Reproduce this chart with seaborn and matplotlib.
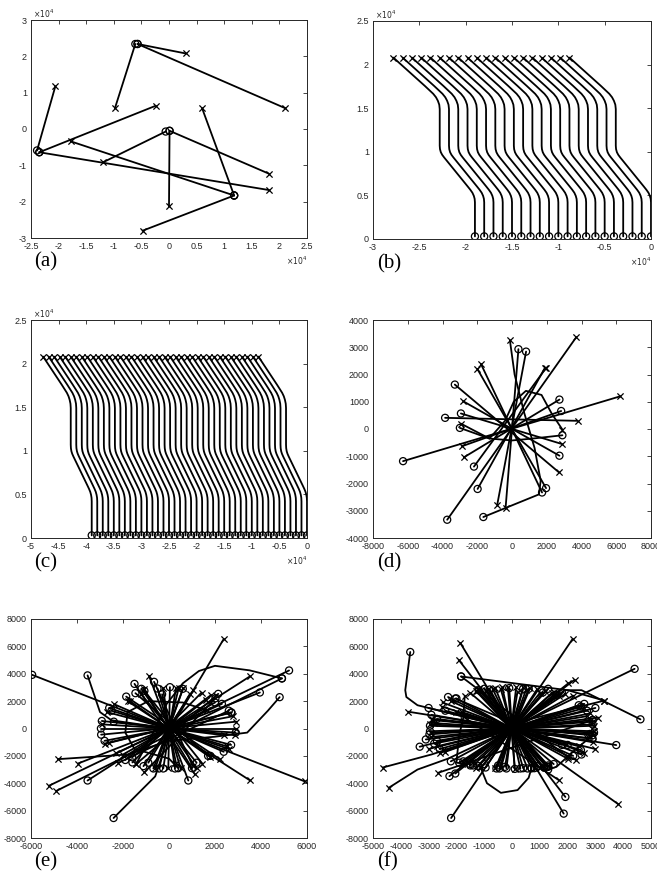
import matplotlib
matplotlib.use("Agg")
import matplotlib.pyplot as plt
import seaborn as sns
import pandas as pd

# ---------------- data ----------------
# (a) units x10^4
a_start_x = [-0.98, 0.30, 2.11, -2.06, -0.24, 1.81, -1.20, 1.81, 0.00, 0.60, -1.78, -0.48]
a_start_y = [0.57, 2.08, 0.57, 1.17, 0.64, -1.68, -0.92, -1.23, -2.13, 0.57, -0.34, -2.80]
a_end_x = [-0.61, -0.57, -0.57, -2.39, -2.35, -2.35, -0.06, 0.01, 0.01, 1.18, 1.18, 1.18]
a_end_y = [2.34, 2.34, 2.34, -0.59, -0.64, -0.64, -0.07, -0.05, -0.05, -1.83, -1.83, -1.83]

# (b), (c): shared path shape (offset from start x, y) in units x10^4
shape_dx = [0.00, 0.34, 0.39, 0.43, 0.46, 0.48, 0.495, 0.50, 0.50, 0.503, 0.512, 0.527, 0.548,
            0.80, 0.83, 0.853, 0.868, 0.877, 0.88, 0.88]
shape_y = [2.08, 1.755, 1.705, 1.665, 1.625, 1.585, 1.54, 1.49, 1.07, 1.03, 0.995, 0.965, 0.935,
           0.605, 0.565, 0.53, 0.495, 0.46, 0.42, 0.03]
b_start_x = [-2.78, -2.68, -2.58, -2.48, -2.38, -2.28, -2.18, -2.08, -1.98, -1.88,
             -1.78, -1.68, -1.58, -1.48, -1.38, -1.28, -1.18, -1.08, -0.98, -0.88]
c_start_x = [-4.78, -4.68, -4.58, -4.48, -4.38, -4.28, -4.18, -4.08, -3.98, -3.88,
             -3.78, -3.68, -3.58, -3.48, -3.38, -3.28, -3.18, -3.08, -2.98, -2.88,
             -2.78, -2.68, -2.58, -2.48, -2.38, -2.28, -2.18, -2.08, -1.98, -1.88,
             -1.78, -1.68, -1.58, -1.48, -1.38, -1.28, -1.18, -1.08, -0.98, -0.88]

# (d)
d_start_x = [3700, 6230, -1790, -2000, 1900, -2800, 2870, -2870, -2770, 2700, -850, -370, 3770, 1950]
d_start_y = [3370, 1200, 2390, 2210, 2250, 1015, -550, -630, -1040, -1590, -2780, -2900, 300, 2230]
d_end_x = [-3730, -6270, 1730, 1960, -1980, 2730, -2940, 2830, 2730, -3290, 810, 370, -3850, -2190]
d_end_y = [-3330, -1180, -2330, -2170, -2200, -980, 570, 660, 1080, 1630, 2840, 2930, 410, -1380]
d_curve_x = [[-120, 150, 700, 1300, 1650, 1550, -1650],
             [2900, 2300, 1700, 800, 100, -400, -1300, -3000],
             [-2950, -1300, 0, 1200, 2900]]
d_curve_y = [[3250, 2000, 600, -700, -1900, -2400, -3230],
             [-20, 550, 1250, 1400, 1000, 300, -350, 40],
             [200, -350, -420, -350, -230]]

# (e)
e_start_x = [5910, -5230, -3960, 3510, -870, 1130, 1030, 1450, 2210, 1800, -260, 420, 620, 1050,
             1420, 1830, -1430, -1070, -30, 500, 2930, 2930, 2860, -2790, -2600, -2380, -2200,
             -4900, -1700, 2500, -2000, 1200, -1100, 300,
             -1800, -1200, 2600, -2900, 2800, -600, 1600, -2300, 2400, 900, -2700, 300]
e_start_y = [-3870, -4190, -2560, 3800, 3850, -3360, -2730, -2560, -2240, -2100, 2950, 2950, 2950,
             2780, 2630, 2450, -2600, -3210, -2920, -2900, 500, 0, -480, -1100, -1050, 1770, -2510,
             -4560, 2000, -1300, -1900, -2900, 2900, 2950,
             2000, 2500, -1500, 300, 900, -2900, 2100, -1800, -500, 2500, 1200, -2500]
e_end_x = [-5950, 5220, 3950, -3540, 840, -1500, -650, -1070, -1860, -1460, 260, -430, -680, -1110,
           -1590, -1900, 2140, 2020, 40, -500, -2950, -2960, -2920, 2720, 2700, 2380, 2600,
           4910, 1700, -2500, 2000, -1200, 1000, -250,
           1800, 1200, -2600, 2900, -2800, 600, -1600, 2300, -2400, -900, 2700, -300]
e_end_y = [3920, 4240, 2630, -3800, -3800, 3260, 3410, 2750, 2330, 2580, -2920, -2920, -2920, -2750,
           -2480, -2300, 2530, 2210, 3020, 2920, -450, 0, 550, 1160, 1180, -1700, 1300,
           3660, -2000, 1300, 1900, 2900, -2900, -2920,
           -2000, -2500, 1500, -300, -900, 2900, -2100, 1800, 500, -2500, -1200, 2500]
e_curve_x = [[2380, 0, -300, -600, -2410],
             [3510, 0, -2500, -3000, -3540],
             [-1430, -600, -100, 600, 1300, 2000, 3500, 4910],
             [-4830, -1800, 0, 2000, 3400, 4300, 4810],
             [1650, 600, -900, -1800, -1900, -1500, 0, 400]]
e_curve_y = [[6540, -200, -2000, -3500, -6540],
             [-3780, 0, 600, 1200, 3880],
             [-2600, 0, 1800, 3300, 4200, 4580, 4250, 3660],
             [-2240, -1900, -900, -600, -300, 1300, 2290],
             [1330, 1900, 2000, 1200, -300, -1500, -2200, -2900]]

# (f)
f_start_x = [-1860, 2180, -1920, -3740, -2520, -2880, 2890, -2880, 3320, 2600, 2030, 2030, 2250,
             -1300, -1100, -850, -600, -350, -150, 150, 400, 650, 900, -1100, -1600, -2480, -2900,
             2950, -2950, 2900, -2700, 2700, -2500, 2300, -1800, 1900, -2600, 1300, -1260, 1690,
             -2660, 1500, -400, 800, -2000, 2400, 1000, -700, 3100, -3000,
             -1500, -1200, -900, -400, 200, 500, 1200, 1450, 1700, -2200, 2600, 2800, -2800,
             2700, -2400, 2000, -600, 100, 3000, -1800, 2200, -2900, 1000, -1300, 2950]
f_start_y = [6250, 6540, 5020, 1230, 1600, 620, 500, 700, 2040, -1820, -2110, 3310, 3560,
             2750, 2800, 2900, 2950, 3000, 3000, 3000, 3000, 2950, 2850, -2800, -2500, -1600, -620,
             200, 300, -1000, -1300, 900, 1900, -2300, -2600, 2500, -1800, -2750, 2760, -3780,
             -3240, 2700, -2900, -2850, 1200, -1300, 2600, 2900, 800, -1500,
             2600, 2900, 2750, 2850, 2700, 2800, 2750, 2600, 2400, 2000, 1500, 1100, 400,
             -700, -1700, -2200, -2900, -2950, -1500, 1200, 2400, -300, -2900, -2900, -200]
f_end_x = [1860, -2190, 1920, 3750, 2480, 2890, -2970, 2890, -3320, -2040, -1830, -2040, -2250,
           1250, 1150, 800, 560, 300, 100, -200, -450, -560, -950, 1110, 1620, 2480, 2900,
           -2950, 2950, -2900, 2700, -2700, 2500, -2300, 1800, -1900, 2600, -1200, 1300, -1700,
           2900, -1500, 400, -800, 2000, -2400, -1000, 700, -3100, 3000,
           1500, 1300, 900, 400, -250, -500, -1200, -1400, -1750, 2200, -2600, -2800, 2800,
           -2700, 2400, -2000, 600, -100, -3000, 1800, -2200, 2900, -1000, 1300, -2950]
f_end_y = [-6220, -6540, -5000, -1210, -1580, -500, -430, -750, -1330, 2190, 3800, -3290, -3480,
           -2800, -2850, -2900, -2920, -2920, -2950, -2920, -2920, -2920, -2850, 2630, 2460, 1600, 620,
           -200, -300, 1000, 1300, -900, -1900, 2300, 2600, -2500, 1800, 2800, -2800, 790,
           620, -2700, 2900, 2850, -1200, 1300, -2600, -2900, -800, 1500,
           -2600, -2700, -2750, -2900, -2800, -2700, -2750, -2700, -2400, -2000, -1500, -1100, -400,
           700, 1700, 2200, 2900, 2950, 1500, -1200, -2400, 300, 2900, 2900, 200]
f_curve_x = [[3830, 0, -3400, -3800, -3840, -3660],
             [-4440, -3400, -2300, 0, 4410],
             [-4650, -2900, 0, 1900, 2500, 3300, 4620],
             [-1140, -900, -400, 200, 600, 700],
             [3320, 2000, -1830],
             [-1700, -1750, -1900, -2000, -1500],
             [2900, 2300, 1600, 1300]]
f_curve_y = [[-5540, 0, 1700, 2300, 2800, 5590],
             [-4340, -3000, -2200, 0, 4360],
             [-2850, -1900, 0, 2800, 2800, 2000, 670],
             [-2800, -4000, -4700, -4500, -3600, -2900],
             [2040, 2800, 3800],
             [2400, 800, -500, -2500, -2600],
             [-500, -1500, -2800, -3000]]

# ticks
a_xticks = [-2.5, -2, -1.5, -1, -0.5, 0, 0.5, 1, 1.5, 2, 2.5]
a_yticks = [-3, -2, -1, 0, 1, 2, 3]
b_xticks = [-3, -2.5, -2, -1.5, -1, -0.5, 0]
bc_yticks = [0, 0.5, 1, 1.5, 2, 2.5]
c_xticks = [-5, -4.5, -4, -3.5, -3, -2.5, -2, -1.5, -1, -0.5, 0]
d_xticks = [-8000, -6000, -4000, -2000, 0, 2000, 4000, 6000, 8000]
d_yticks = [-4000, -3000, -2000, -1000, 0, 1000, 2000, 3000, 4000]
e_xticks = [-6000, -4000, -2000, 0, 2000, 4000, 6000]
ef_yticks = [-8000, -6000, -4000, -2000, 0, 2000, 4000, 6000, 8000]
f_xticks = [-5000, -4000, -3000, -2000, -1000, 0, 1000, 2000, 3000, 4000, 5000]
panel_labels = ["(a)", "(b)", "(c)", "(d)", "(e)", "(f)"]

# ---------------- drawing ----------------
sns.set_theme(style="white")
plt.rcParams['font.family'] = ['Liberation Sans', 'DejaVu Sans']

W, H = 657, 877
fig = plt.figure(figsize=(W / 100, H / 100), dpi=100)


def place(l, t, r, b):
    return fig.add_axes([l / W, 1 - b / H, (r - l) / W, (b - t) / H])


LW = 1.3


def draw_paths(ax, xs_list, ys_list):
    rows = []
    for i, (xs, ys) in enumerate(zip(xs_list, ys_list)):
        for k, (x, y) in enumerate(zip(xs, ys)):
            rows.append((i, k, x, y))
    df = pd.DataFrame(rows, columns=["traj", "step", "x", "y"])
    sns.lineplot(data=df, x="x", y="y", units="traj", estimator=None, sort=False,
                 color="black", lw=LW, ax=ax, legend=False)
    for line in ax.get_lines():
        line.set_solid_joinstyle("round")
    starts = df[df.step == 0]
    ends = df.loc[df.groupby("traj").step.idxmax()]
    sns.scatterplot(data=starts, x="x", y="y", marker="x", s=20, color="black",
                    linewidth=0.9, ax=ax, legend=False, zorder=5)
    sns.scatterplot(data=ends, x="x", y="y", marker="o", s=26, facecolor="none",
                    edgecolor="black", linewidth=0.9, ax=ax, legend=False, zorder=5)


def style(ax, xt, yt, xlim, ylim):
    ax.set_xlim(*xlim)
    ax.set_ylim(*ylim)
    ax.set_xticks(xt)
    ax.set_yticks(yt)
    ax.set_xticklabels(["%g" % v for v in xt])
    ax.set_yticklabels(["%g" % v for v in yt])
    ax.set_xlabel("")
    ax.set_ylabel("")
    ax.tick_params(direction="in", length=3, width=0.6, labelsize=6.5,
                   top=True, right=True, pad=3, colors="#262626")
    for s in ax.spines.values():
        s.set_color("#262626")
        s.set_linewidth(0.7)
        s.set_visible(True)


# (a)
ax = place(31, 20, 307, 238)
draw_paths(ax, [[sx, ex] for sx, ex in zip(a_start_x, a_end_x)],
           [[sy, ey] for sy, ey in zip(a_start_y, a_end_y)])
style(ax, a_xticks, a_yticks, (-2.5, 2.5), (-3, 3))

# (b)
ax = place(373, 21, 651, 239)
draw_paths(ax, [[x0 + d for d in shape_dx] for x0 in b_start_x],
           [list(shape_y) for _ in b_start_x])
style(ax, b_xticks, bc_yticks, (-3, 0), (0, 2.5))

# (c)
ax = place(31, 320, 307, 538)
draw_paths(ax, [[x0 + d for d in shape_dx] for x0 in c_start_x],
           [list(shape_y) for _ in c_start_x])
style(ax, c_xticks, bc_yticks, (-5, 0), (0, 2.5))

# (d)
ax = place(373, 320, 651, 538)
draw_paths(ax, [[sx, ex] for sx, ex in zip(d_start_x, d_end_x)] + d_curve_x,
           [[sy, ey] for sy, ey in zip(d_start_y, d_end_y)] + d_curve_y)
style(ax, d_xticks, d_yticks, (-8000, 8000), (-4000, 4000))

# (e)
ax = place(31, 619, 307, 838)
draw_paths(ax, [[sx, ex] for sx, ex in zip(e_start_x, e_end_x)] + e_curve_x,
           [[sy, ey] for sy, ey in zip(e_start_y, e_end_y)] + e_curve_y)
style(ax, e_xticks, ef_yticks, (-6000, 6000), (-8000, 8000))

# (f)
ax = place(373, 619, 651, 838)
draw_paths(ax, [[sx, ex] for sx, ex in zip(f_start_x, f_end_x)] + f_curve_x,
           [[sy, ey] for sy, ey in zip(f_start_y, f_end_y)] + f_curve_y)
style(ax, f_xticks, ef_yticks, (-5000, 5000), (-8000, 8000))

# exponent labels
exp_txt = r"$\times10^{4}$"
for (l, t, r, b) in [(31, 20, 307, 238), (373, 21, 651, 239), (31, 320, 307, 538)]:
    fig.text((l + 2) / W, 1 - (t - 6) / H, exp_txt, fontsize=5.5, color="#262626",
             ha="left", va="center")
    fig.text(r / W, 1 - (b + 23) / H, exp_txt, fontsize=5.5, color="#262626",
             ha="right", va="center")

# panel labels
label_pos = [(34, 262), (377, 264), (34, 563), (377, 563), (34, 862), (377, 862)]
for lab, (x, y) in zip(panel_labels, label_pos):
    fig.text(x / W, 1 - y / H, lab, fontsize=15, family=["Liberation Serif"],
             color="black", ha="left", va="center")

fig.savefig("out.png", dpi=100, facecolor="white")
